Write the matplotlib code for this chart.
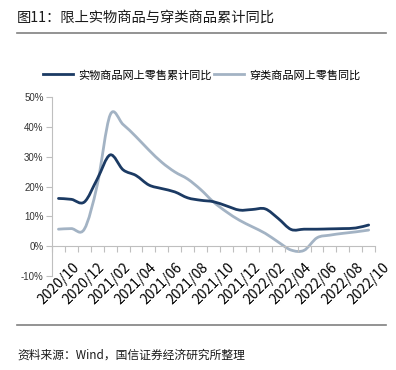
import numpy as np
import matplotlib
matplotlib.use("Agg")
import matplotlib.pyplot as plt
from matplotlib.path import Path
from matplotlib.patches import PathPatch
from matplotlib.lines import Line2D

plt.rcParams['font.family'] = ['Noto Sans CJK SC', 'DejaVu Sans']

meses = ["2020/10", "2020/11", "2020/12", "2021/01", "2021/02", "2021/03", "2021/04",
         "2021/05", "2021/06", "2021/07", "2021/08", "2021/09", "2021/10", "2021/11",
         "2021/12", "2022/01", "2022/02", "2022/03", "2022/04", "2022/05", "2022/06",
         "2022/07", "2022/08", "2022/09", "2022/10"]
shiwu = [16.0, 15.7, 14.8, 22.5, 30.6, 25.6, 23.7, 20.5, 19.3, 18.2, 16.2, 15.4,
         14.9, 13.5, 12.1, 12.3, 12.5, 9.3, 5.6, 5.7, 5.7, 5.8, 5.9, 6.1, 7.1]
chuanlei = [5.7, 5.9, 5.7, 20.5, 44.0, 40.8, 36.7, 32.2, 28.1, 24.9, 22.5, 19.0,
            14.8, 11.5, 8.7, 6.5, 4.3, 1.4, -1.3, -1.4, 2.8, 3.7, 4.3, 4.8, 5.4]

nombres = ["实物商品网上零售累计同比", "穿类商品网上零售同比"]
colores = ["#1b3a63", "#a3b3c4"]
cjk = ['Noto Sans CJK SC', 'DejaVu Sans']
arial = ['Liberation Sans', 'DejaVu Sans']


def curva_suave(xs, ys):
    # Bezier tipo Excel: puntos de control a partir de los vecinos
    pts = np.column_stack([xs, ys]).astype(float)
    n = len(pts)
    verts = [pts[0]]
    codes = [Path.MOVETO]
    for i in range(n - 1):
        p0 = pts[i - 1] if i > 0 else pts[i]
        p1 = pts[i]
        p2 = pts[i + 1]
        p3 = pts[i + 2] if i + 2 < n else pts[i + 1]
        c1 = p1 + (p2 - p0) / 6.0
        c2 = p2 - (p3 - p1) / 6.0
        verts += [c1, c2, p2]
        codes += [Path.CURVE4] * 3
    return Path(verts, codes)


fig = plt.figure(figsize=(3.96, 3.70), dpi=100)
ax = fig.add_axes([0.1313, 0.254, 0.816, 0.4838])

x = np.arange(len(meses))
# la clara primero, la oscura encima
ax.add_patch(PathPatch(curva_suave(x, chuanlei), facecolor='none', edgecolor=colores[1],
                       lw=2.0, capstyle='round', joinstyle='round'))
ax.add_patch(PathPatch(curva_suave(x, shiwu), facecolor='none', edgecolor=colores[0],
                       lw=2.0, capstyle='round', joinstyle='round'))

ax.set_xlim(-0.5, len(meses) - 0.5)
ax.set_ylim(-10, 50)
ax.set_yticks(np.arange(-10, 51, 10))
ax.set_yticklabels([f"{v}%" for v in range(-10, 51, 10)], family=arial,
                   fontsize=7, color='#333333')

ax.set_xticks(np.arange(-0.5, len(meses), 1.0))
ax.set_xticklabels([])
ax.set_xticks(x[::2], minor=True)
ax.set_xticklabels(meses[::2], minor=True, family=arial, fontsize=7, color='#333333')
ax.tick_params(axis='x', which='major', length=4, color='#bfbfbf', direction='out')
ax.tick_params(axis='x', which='minor', length=0, pad=10, labelrotation=45)
for lbl in ax.get_xticklabels(minor=True):
    lbl.set_ha('right')
    lbl.set_va('center')
    lbl.set_rotation_mode('anchor')
ax.tick_params(axis='y', length=4, color='#bfbfbf', pad=2)

for s in ['top', 'right']:
    ax.spines[s].set_visible(False)
ax.spines['bottom'].set_position(('data', 0))
ax.spines['bottom'].set_color('#bfbfbf')
ax.spines['left'].set_color('#bfbfbf')
ax.set_facecolor('none')

handles = [Line2D([], [], color=c, lw=2.0) for c in colores]
fig.legend(handles, nombres, loc='center', bbox_to_anchor=(0.51, 0.797), ncol=2,
           frameon=False, handlelength=2.7, handletextpad=0.5,
           columnspacing=0.2, prop={'family': cjk, 'size': 8})

fig.text(0.043, 0.951, "图11：限上实物商品与穿类商品累计同比", fontsize=10.3,
         family=cjk, va='center', color='#1a1a1a')
fig.add_artist(Line2D([0.043, 0.975], [0.911, 0.911], color='#808080', lw=1.2))
fig.add_artist(Line2D([0.043, 0.975], [0.122, 0.122], color='#808080', lw=1.2))
fig.text(0.043, 0.04, "资料来源：Wind，国信证券经济研究所整理", fontsize=8.5,
         family=cjk, va='center', color='#1a1a1a')

fig.savefig("out.png", dpi=100)
